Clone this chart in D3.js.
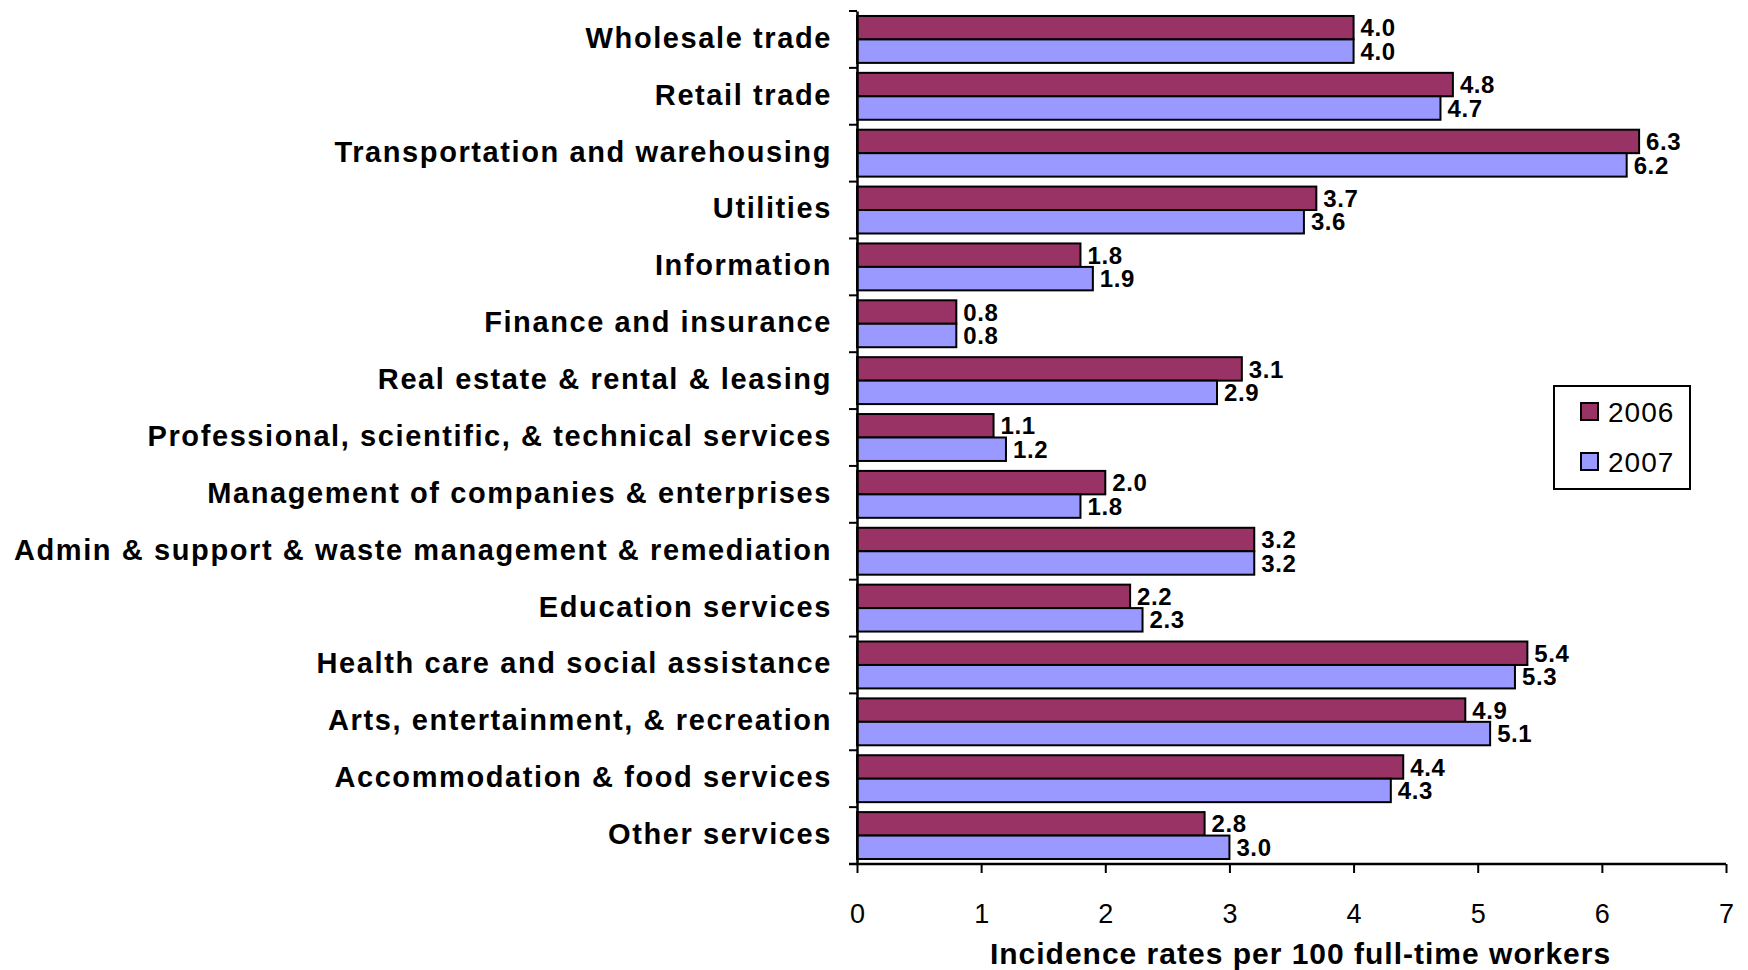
<!DOCTYPE html>
<html><head><meta charset="utf-8">
<script src="https://cdn.jsdelivr.net/npm/d3@7"></script>
<style>
body{margin:0;background:#fff;}
svg{display:block;font-family:"Liberation Sans",Arial,sans-serif;}
</style></head>
<body>
<svg id="chart" width="1748" height="970"></svg>
<script>
const categories = ["Wholesale trade","Retail trade","Transportation and warehousing","Utilities","Information","Finance and insurance","Real estate & rental & leasing","Professional, scientific, & technical services","Management of companies & enterprises","Admin & support & waste management & remediation","Education services","Health care and social assistance","Arts, entertainment, & recreation","Accommodation & food services","Other services"];
const series = ["2006","2007"];
const values2006 = [4.0,4.8,6.3,3.7,1.8,0.8,3.1,1.1,2.0,3.2,2.2,5.4,4.9,4.4,2.8];
const values2007 = [4.0,4.7,6.2,3.6,1.9,0.8,2.9,1.2,1.8,3.2,2.3,5.3,5.1,4.3,3.0];
const xTicks = [0,1,2,3,4,5,6,7];
const colors = ["#993366","#9999FF"];
const axisTitle = "Incidence rates per 100 full-time workers";

const svg = d3.select("#chart");
const mLeft = 857, mRight = 1726, mTop = 11, mBottom = 864;
const x = d3.scaleLinear().domain([0,7]).range([mLeft,mRight]);
const y = d3.scaleBand().domain(categories).range([mTop,mBottom]).paddingInner(0.175).paddingOuter(0.0875);
const ySub = d3.scaleBand().domain(series).range([0,y.bandwidth()]);
const data = categories.map((c,i)=>({cat:c, vals:[values2006[i],values2007[i]]}));

// bars
const groups = svg.append("g").selectAll("g").data(data).join("g")
  .attr("transform", d=>`translate(0,${y(d.cat)})`);
groups.selectAll("rect").data(d=>d.vals.map((v,j)=>({v,s:series[j],j}))).join("rect")
  .attr("x", x(0)).attr("y", d=>ySub(d.s))
  .attr("width", d=>x(d.v)-x(0)).attr("height", ySub.bandwidth())
  .attr("fill", d=>colors[d.j]).attr("stroke","#000").attr("stroke-width",2);
groups.selectAll("text.val").data(d=>d.vals.map((v,j)=>({v,s:series[j],j}))).join("text")
  .attr("class","val")
  .attr("x", d=>x(d.v)+7).attr("y", d=>ySub(d.s)+ySub.bandwidth()/2)
  .attr("dy","0.36em").attr("font-size",24).attr("font-weight","bold").attr("letter-spacing",0.6)
  .text(d=>d3.format(".1f")(d.v));

// y axis
const yAxis = d3.axisLeft(y).tickSize(0).tickPadding(0).tickFormat("");
const ya = svg.append("g").attr("transform",`translate(${mLeft},0)`).call(yAxis);
ya.select(".domain").attr("stroke","#000").attr("stroke-width",2.5);
// boundary ticks
const bounds = d3.range(categories.length+1).map(i=>mTop + i*y.step());
svg.append("g").selectAll("line").data(bounds).join("line")
  .attr("x1",mLeft-8).attr("x2",mLeft).attr("y1",d=>d).attr("y2",d=>d)
  .attr("stroke","#000").attr("stroke-width",2);
// category labels
svg.append("g").selectAll("text").data(categories).join("text")
  .attr("x", mLeft-25).attr("y", d=>y(d)+y.bandwidth()/2 - 2)
  .attr("text-anchor","end").attr("dy","0.36em")
  .attr("font-size",29).attr("font-weight","bold").attr("letter-spacing",1.6).text(d=>d);

// x axis
const xAxis = d3.axisBottom(x).tickValues(xTicks).tickFormat(d3.format("d")).tickSize(9).tickPadding(31).tickSizeOuter(0);
const xa = svg.append("g").attr("transform",`translate(0,${mBottom})`).call(xAxis);
xa.select(".domain").attr("stroke","#000").attr("stroke-width",2.5).attr("d",`M${mLeft-8},0H${mRight}`);
xa.selectAll(".tick line").attr("stroke","#000").attr("stroke-width",2);
xa.selectAll(".tick text").attr("font-size",27).attr("fill","#000").attr("font-family","Liberation Sans, Arial, sans-serif");

svg.append("text").attr("x",(mLeft+mRight)/2 + 9).attr("y",964)
  .attr("text-anchor","middle").attr("font-size",30).attr("font-weight","bold").attr("letter-spacing",1).text(axisTitle);

// legend
const lg = svg.append("g").attr("transform","translate(1554,386)");
lg.append("rect").attr("width",136).attr("height",103).attr("fill","#fff").attr("stroke","#000").attr("stroke-width",2);
series.forEach((s,i)=>{
  const yy = 26 + i*50;
  lg.append("rect").attr("x",27).attr("y",yy-9).attr("width",17).attr("height",17)
    .attr("fill",colors[i]).attr("stroke","#000").attr("stroke-width",2);
  lg.append("text").attr("x",54).attr("y",yy).attr("dy","0.36em").attr("font-size",28).attr("letter-spacing",1).text(s);
});
</script>
</body></html>
